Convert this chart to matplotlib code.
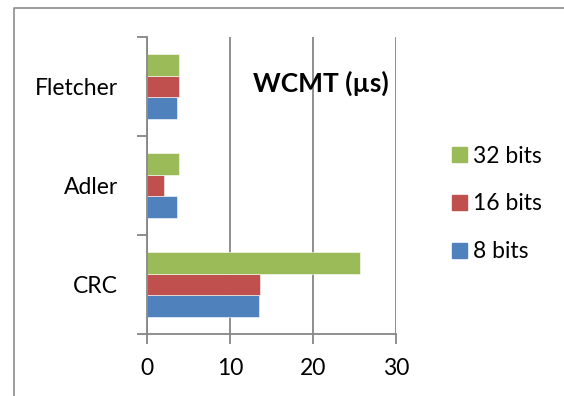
import numpy as np
import matplotlib
matplotlib.use("Agg")
import matplotlib.pyplot as plt
from matplotlib.lines import Line2D
from matplotlib.patches import Patch

plt.rcParams['font.family'] = ['Lato', 'DejaVu Sans']

categories = ["CRC", "Adler", "Fletcher"]
series_names = ["8 bits", "16 bits", "32 bits"]
bits_8 = [13.5, 3.65, 3.65]
bits_16 = [13.6, 2.1, 3.8]
bits_32 = [25.7, 3.85, 3.85]
colors = ["#4F81BD", "#C0504D", "#9BBB59"]
xticks = [0, 10, 20, 30]

W, H = 564, 396
fig = plt.figure(figsize=(W / 100, H / 100), dpi=100)
ax = fig.add_axes([147 / W, 1 - 334 / H, (396 - 147) / W, (334 - 37) / H])

y = np.arange(len(categories))
bh = 0.222
for i, (vals, c) in enumerate(zip([bits_8, bits_16, bits_32], colors)):
    ax.barh(y + (i - 1) * bh, vals, height=bh, color=c,
            edgecolor="white", linewidth=0.4, zorder=3)

fs = 16.5
ax.set_xlim(0, 30)
ax.set_ylim(-0.5, 2.5)
ax.set_xticks(xticks)
ax.set_xticklabels([str(t) for t in xticks], fontsize=fs)
ax.tick_params(axis="x", length=7, width=1.3, color="#868686", pad=10)

# category boundaries as major ticks, labels on minor ticks
ax.set_yticks([-0.5, 0.5, 1.5, 2.5])
ax.set_yticklabels([])
ax.tick_params(axis="y", which="major", length=7, width=1.3, color="#868686")
ax.set_yticks(y, minor=True)
ax.set_yticklabels(categories, minor=True, fontsize=fs)
ax.tick_params(axis="y", which="minor", length=0, pad=21)

ax.grid(axis="x", color="#868686", lw=1.3, zorder=0)
for s in ["top", "right"]:
    ax.spines[s].set_visible(False)
for s in ["left", "bottom"]:
    ax.spines[s].set_color("#868686")
    ax.spines[s].set_linewidth(1.3)
    ax.spines[s].set_zorder(4)

ax.text(321 / W, 1 - 83 / H, "WCMT (µs)", transform=fig.transFigure,
        ha="center", va="center", fontsize=19, fontweight="bold", zorder=5)

handles = [Patch(color=c) for c in colors]
fig.legend(handles[::-1], series_names[::-1], loc="center left",
           bbox_to_anchor=(431 / W, 1 - 204 / H), frameon=False, fontsize=fs,
           handlelength=0.65, handleheight=0.65, handletextpad=0.3,
           labelspacing=1.17)

# chart frame (left and top edges only)
fig.add_artist(Line2D([14 / W, 14 / W, 1], [0, 1 - 8 / H, 1 - 8 / H],
                      transform=fig.transFigure, color="#8c8c8c", lw=1.2))

fig.savefig("out.png", dpi=100)
